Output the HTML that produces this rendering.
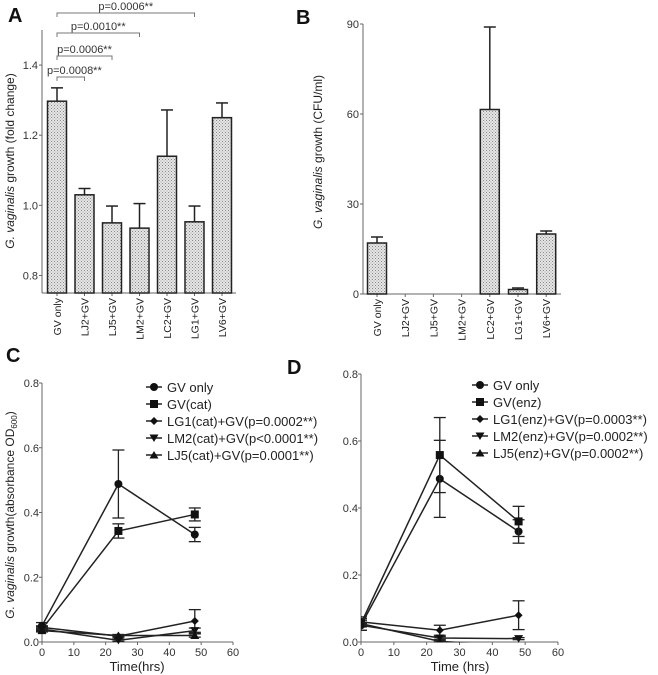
<!DOCTYPE html>
<html><head><meta charset="utf-8"><style>
html,body{margin:0;padding:0;background:#fff;}
svg{display:block;font-family:"Liberation Sans",Arial,sans-serif;}
</style></head><body>
<svg id="fig" width="658" height="675" viewBox="0 0 658 675">
<defs>
<pattern id="dots" width="3" height="3" patternUnits="userSpaceOnUse">
<rect width="3" height="3" fill="#e6e6e6"/><rect x="0" y="0" width="1" height="1" fill="#888"/><rect x="1.5" y="1.5" width="1" height="1" fill="#999"/>
</pattern>
<clipPath id="clipD"><rect x="361" y="360" width="200" height="282.5"/></clipPath>
</defs>
</svg>
<script>
// ---- data ----
const barCats = ["GV only","LJ2+GV","LJ5+GV","LM2+GV","LC2+GV","LG1+GV","LV6+GV"];
const aMeans = [1.297,1.030,0.950,0.935,1.140,0.953,1.250];
const aErrs = [0.038,0.018,0.048,0.070,0.132,0.045,0.042];
const aTicks = [0.8,1.0,1.2,1.4];
const aTickLabels = ["0.8","1.0","1.2","1.4"];
const aBrackets = [1,2,3,5];
const aPvals = ["p=0.0008**","p=0.0006**","p=0.0010**","p=0.0006**"];
const bMeans = [17,0,0,0,61.5,1.5,20];
const bErrs = [2,0,0,0,27.5,0.5,1];
const bTicks = [0,30,60,90];
const timeX = [0,24,48];
const xTicks = [0,10,20,30,40,50,60];
const lineTicks = [0.0,0.2,0.4,0.6,0.8];
const lineTickLabels = ["0.0","0.2","0.4","0.6","0.8"];
const cNames = ["GV only","GV(cat)","LG1(cat)+GV(p=0.0002**)","LM2(cat)+GV(p<0.0001**)","LJ5(cat)+GV(p=0.0001**)"];
const cGV = [0.050,0.488,0.332];
const cGVErr = [0.01,0.105,0.022];
const cCat = [0.040,0.343,0.394];
const cCatErr = [0.008,0.022,0.020];
const cLG1 = [0.045,0.018,0.065];
const cLG1Err = [0.005,0.005,0.035];
const cLM2 = [0.040,0.005,0.035];
const cLM2Err = [0.004,0.003,0.008];
const cLJ5 = [0.035,0.020,0.020];
const cLJ5Err = [0.004,0.003,0.005];
const dNames = ["GV only","GV(enz)","LG1(enz)+GV(p=0.0003**)","LM2(enz)+GV(p=0.0002**)","LJ5(enz)+GV(p=0.0002**)"];
const dGV = [0.050,0.487,0.330];
const dGVErr = [0.015,0.115,0.035];
const dEnz = [0.055,0.558,0.360];
const dEnzErr = [0.02,0.112,0.045];
const dLG1 = [0.060,0.035,0.080];
const dLG1Err = [0.01,0.015,0.043];
const dLM2 = [0.050,0.012,0.010];
const dLM2Err = [0.005,0.004,0.003];
const dLJ5 = [0.055,0.002,-0.012];
const dLJ5Err = [0.004,0.002,0];

const NS="http://www.w3.org/2000/svg";
const svg=document.getElementById('fig');
function mk(tag,attrs,parent,txt){const e=document.createElementNS(NS,tag);for(const k in attrs)e.setAttribute(k,attrs[k]);if(txt!==undefined)e.textContent=txt;(parent||svg).appendChild(e);return e;}
function grp(name){const g=mk('g',{});return g;}
const AX="#666";

function panelLetter(t,x,y){const e=mk('text',{x:x,y:y,'font-size':20,'font-weight':'bold',fill:'#111'},svg,t);

}
function yTitle(x,y,parts,name){const t=mk('text',{x:0,y:0,'font-size':12,fill:'#222','text-anchor':'middle',transform:`translate(${x},${y}) rotate(-90)`});


parts.forEach(p=>{const s=mk('tspan',p.a||{},t,p.t);});}

// ---- bar chart ----
function barChart(name,x0,x1,yTop,yBot,vmin,vmax,means,errs,ticks,tickLabels,c0,step){
 const g=grp(name);
 const ys=v=>yBot-(v-vmin)/(vmax-vmin)*(yBot-yTop);
 const xs=i=>c0+i*step;
 mk('line',{x1:x0,y1:yTop,x2:x0,y2:yBot,stroke:AX,'stroke-width':1},g);
 mk('line',{x1:x0,y1:yBot,x2:x1,y2:yBot,stroke:AX,'stroke-width':1},g);
 ticks.forEach((t,i)=>{const y=ys(t);mk('line',{x1:x0-3,y1:y,x2:x0,y2:y,stroke:AX},g);
  const l=mk('text',{x:x0-4,y:y+4,'font-size':11,'text-anchor':'end',fill:'#333'},g,tickLabels[i]);
  
  });
 means.forEach((m,i)=>{const cx=xs(i);
  mk('line',{x1:cx,y1:yBot,x2:cx,y2:yBot+3,stroke:AX},g);
  if(m>vmin){const y=ys(m);const r=mk('rect',{x:cx-9.5,y:y,width:19,height:yBot-y,fill:'url(#dots)',stroke:'#222','stroke-width':1.5},g);
   
   
   if(errs[i]>0){const ye=ys(m+errs[i]);mk('line',{x1:cx,y1:y,x2:cx,y2:ye,stroke:'#222','stroke-width':1.5},g);mk('line',{x1:cx-6,y1:ye,x2:cx+6,y2:ye,stroke:'#222','stroke-width':1.5},g);}}
  const l=mk('text',{x:0,y:0,'font-size':10.5,'text-anchor':'end',fill:'#222',transform:`translate(${cx+4},${yBot+5}) rotate(-90)`},g,barCats[i]);
  
  });
 return {xs,ys,g};
}
panelLetter('A',8,22);
const A=barChart('chart-a',42,236,30,293,0.75,1.5,aMeans,aErrs,aTicks,aTickLabels,57,27.5);
yTitle(14,161,[{t:'G. vaginalis',a:{'font-style':'italic'}},{t:' growth (fold change)'}],'y-axis-title-a');
const bY=[77,56,33,13];
aBrackets.forEach((j,k)=>{const x1=A.xs(0),x2=A.xs(j),y=bY[k];
 mk('path',{d:`M${x1},${y+4}V${y}H${x2}V${y+4}`,fill:'none',stroke:'#777','stroke-width':1},A.g);
 const t=mk('text',{x:k==0?47:(x1+x2)/2,y:y-3,'font-size':11,fill:'#333','text-anchor':k==0?'start':'middle'},A.g,aPvals[k]);
 
 });

panelLetter('B',296,24);
barChart('chart-b',363,561,24,294,0,90,bMeans,bErrs,bTicks,bTicks.map(String),377,28.2);
yTitle(322,152,[{t:'G. vaginalis',a:{'font-style':'italic'}},{t:' growth (CFU/ml)'}],'y-axis-title-b');

// ---- line charts ----
function marker(g,type,x,y){
 if(type==0)mk('circle',{cx:x,cy:y,r:4,fill:'#111'},g);
 else if(type==1)mk('rect',{x:x-4,y:y-4,width:8,height:8,fill:'#111'},g);
 else if(type==2)mk('path',{d:`M${x},${y-4}L${x+4},${y}L${x},${y+4}L${x-4},${y}Z`,fill:'#111'},g);
 else if(type==3)mk('path',{d:`M${x-4.5},${y-3.5}H${x+4.5}L${x},${y+4}Z`,fill:'#111'},g);
 else mk('path',{d:`M${x-4.5},${y+3.5}H${x+4.5}L${x},${y-4}Z`,fill:'#111'},g);}
function lineChart(name,x0,x1,yTop,yBot,series,errsArr,names,legX,legY,legStep,clip){
 const g=grp(name);
 const xs=v=>x0+v/60*(x1-x0);
 const ys=v=>yBot-v/0.8*(yBot-yTop);
 mk('line',{x1:x0,y1:yTop,x2:x0,y2:yBot,stroke:AX},g);
 mk('line',{x1:x0,y1:yBot,x2:x1,y2:yBot,stroke:AX},g);
 lineTicks.forEach((t,i)=>{const y=ys(t);mk('line',{x1:x0-3,y1:y,x2:x0,y2:y,stroke:AX},g);
  const l=mk('text',{x:x0-3,y:y+4,'font-size':11,'text-anchor':'end',fill:'#333'},g,lineTickLabels[i]);
  
  });
 xTicks.forEach(t=>{const x=xs(t);mk('line',{x1:x,y1:yBot,x2:x,y2:yBot+3,stroke:AX},g);
  const l=mk('text',{x:x,y:yBot+14,'font-size':11,'text-anchor':'middle',fill:'#333'},g,String(t));
  
  });
 series.forEach((s,si)=>{const sg=mk('g',clip?{'clip-path':'url(#clipD)'}:{},g);
  
  
  mk('polyline',{points:s.map((v,i)=>xs(timeX[i])+','+ys(v)).join(' '),fill:'none',stroke:'#222','stroke-width':1.5},sg);
  s.forEach((v,i)=>{const x=xs(timeX[i]),e=errsArr[si][i];
   if(e>0){mk('line',{x1:x,y1:ys(v-e),x2:x,y2:ys(v+e),stroke:'#222','stroke-width':1.3},sg);
    [v-e,v+e].forEach(q=>mk('line',{x1:x-6,y1:ys(q),x2:x+6,y2:ys(q),stroke:'#222','stroke-width':1.3},sg));}
   marker(sg,si,x,ys(v));});});
 names.forEach((n,i)=>{const y=legY+i*legStep;const lg=mk('g',{},g);
  
  
  mk('line',{x1:legX,y1:y,x2:legX+16,y2:y,stroke:'#222','stroke-width':1.5},lg);
  marker(lg,i,legX+8,y);
  mk('text',{x:legX+21,y:y+5,'font-size':13,fill:'#222'},lg,n);});
 return g;}
panelLetter('C',6,362);
const gC=lineChart('chart-c',42,233,383,642,[cGV,cCat,cLG1,cLM2,cLJ5],[cGVErr,cCatErr,cLG1Err,cLM2Err,cLJ5Err],cNames,146,387,17,false);
yTitle(14,515,[{t:'G. vaginalis',a:{'font-style':'italic'}},{t:' growth(absorbance OD'},{t:'600',a:{'font-size':8,dy:3}},{t:')',a:{dy:-3}}],'y-axis-title-c');
const tc=mk('text',{x:137,y:671,'font-size':13,'text-anchor':'middle',fill:'#222'},svg,'Time(hrs)');


panelLetter('D',287,374);
const gD=lineChart('chart-d',361,558,374,642,[dGV,dEnz,dLG1,dLM2,dLJ5],[dGVErr,dEnzErr,dLG1Err,dLM2Err,dLJ5Err],dNames,472,385,17,true);
const td=mk('text',{x:460,y:671,'font-size':13,'text-anchor':'middle',fill:'#222'},svg,'Time (hrs)');


</script>
</body></html>
